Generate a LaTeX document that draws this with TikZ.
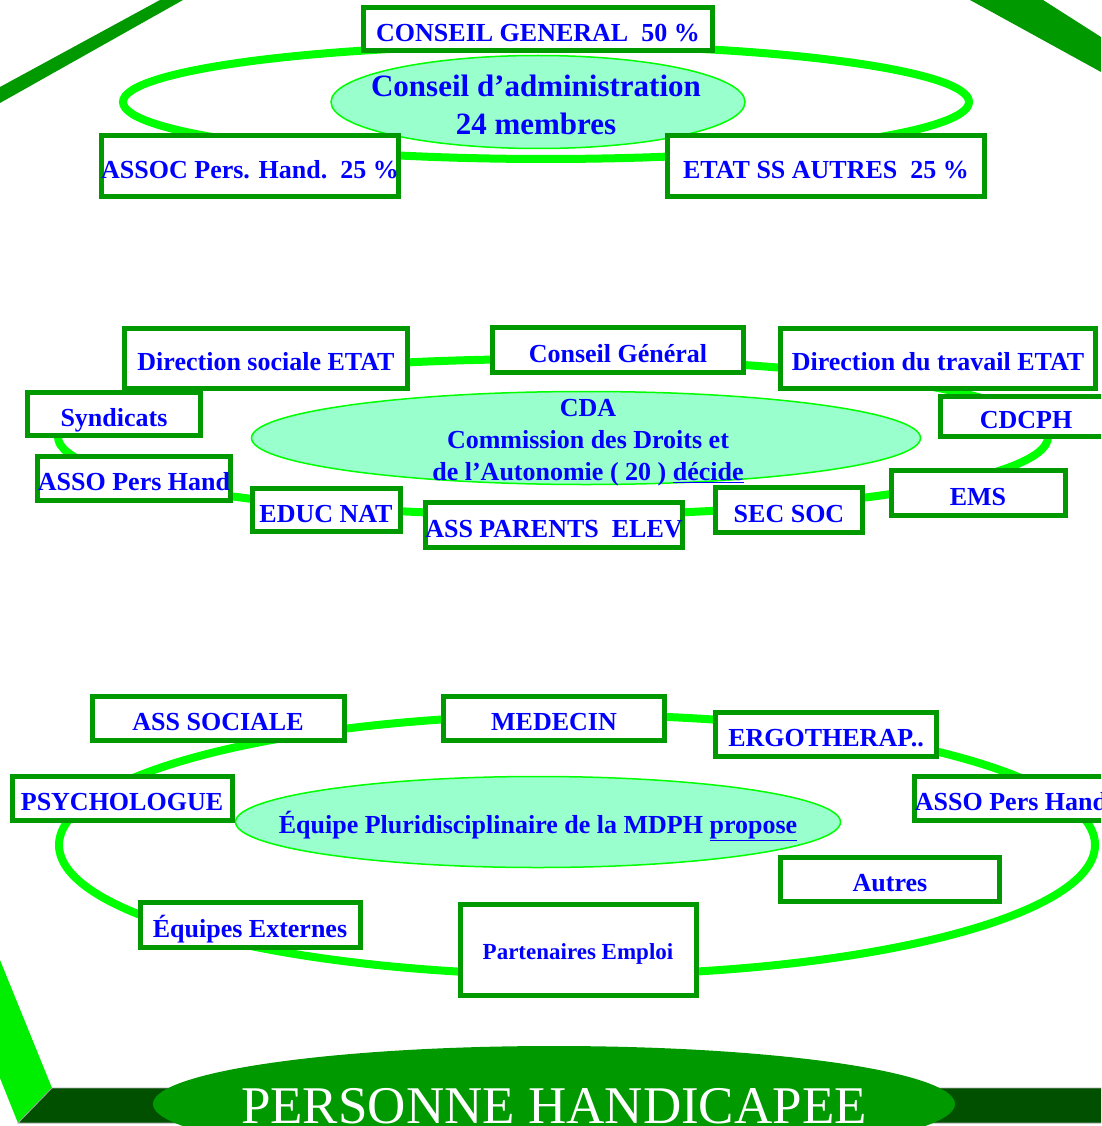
\documentclass[tikz,border=0pt]{standalone}
\usepackage{fontspec}
\setmainfont{Liberation Serif}
\usetikzlibrary{shapes.geometric}
\definecolor{boxgreen}{RGB}{0,153,0}
\definecolor{ringgreen}{RGB}{0,255,0}
\definecolor{facegreen}{RGB}{0,238,0}
\definecolor{basegreen}{RGB}{0,80,0}
\definecolor{cellfill}{RGB}{153,255,204}
\definecolor{txtblue}{RGB}{0,0,255}

\begin{document}
\begin{tikzpicture}[
      x=1pt,y=-1pt,
      ring/.style={draw=ringgreen,line width=8pt},
      cell/.style={ellipse,draw=ringgreen,line width=1.5pt,fill=cellfill,inner sep=0},
      celltext/.style={inner sep=0,text=txtblue,align=center,font=\bfseries\fontsize{26}{32}\selectfont},
      box/.style={rectangle,draw=boxgreen,line width=5pt,fill=white,inner sep=0,
        text height=25pt,text depth=0pt,text=txtblue,font=\bfseries\fontsize{26}{30}\selectfont},
    ]
    \clip (0,0) rectangle (1101,1126);
    %
    % frame of the pyramid
    \fill [boxgreen] (0,87) -- (160,0) -- (183,0) -- (0,103) -- cycle;
    \fill [boxgreen] (970,0) -- (1043,0) -- (1101,37) -- (1101,72) -- cycle;
    \fill [facegreen] (0,960) -- (52,1088) -- (18,1123) -- (0,1078) -- cycle;
    \filldraw [basegreen,draw=gray!70,line width=0.8pt] (52,1088) -- (1110,1088) -- (1110,1123) -- (18,1123) -- cycle;
    %
    % conseil d'administration
    \coordinate (r1) at (546,102);
    \draw [ring] (r1) ellipse [x radius=423, y radius=57];
    \node (ca) [cell,minimum width=414,minimum height=93] at (538,102) {};
    \node (catext) [celltext,font=\bfseries\fontsize{31}{38}\selectfont] at (536,105)
      {Conseil d’administration\\24 membres};
    \node (gen) [box,minimum width=349,minimum height=43] at (538,29) {CONSEIL GENERAL~~50~\%};
    \node (assoc) [box,minimum width=285,minimum height=60] at (250,166) {ASSOC Pers. Hand.~~25~\%};
    \node (etat) [box,minimum width=317,minimum height=60] at (826,166) {ETAT SS AUTRES~~25~\%};
    %
    % commission des droits
    \coordinate (r2) at (553,437);
    \draw [ring] (r2) ellipse [x radius=495, y radius=78];
    \node (cda) [cell,minimum width=669,minimum height=93] at (586,438) {};
    \node (cdatext) [celltext] at (588,443)
      {CDA\\Commission des Droits et\\de l’Autonomie ( 20 ) \underline{décide}};
    \node (dsoc) [box,minimum width=283,minimum height=60] at (266,358) {Direction sociale ETAT};
    \node (cg) [box,minimum width=251,minimum height=45] at (618,350) {Conseil Général};
    \node (dtrav) [box,minimum width=315,minimum height=60] at (938,358) {Direction du travail ETAT};
    \node (synd) [box,minimum width=173,minimum height=43] at (114,414) {Syndicats};
    \node (cdcph) [box,minimum width=171,minimum height=40] at (1026,416) {CDCPH};
    \node (asso2) [box,minimum width=180,minimum height=44] at (134,478) {ASSO Pers Hand};
    \node (educ) [box,minimum width=148,minimum height=43] at (326,510) {EDUC NAT};
    \node (parents) [box,minimum width=253,minimum height=45] at (554,525) {ASS PARENTS~~ELEV};
    \node (secsoc) [box,minimum width=147,minimum height=45] at (789,510) {SEC SOC};
    \node (ems) [box,minimum width=174,minimum height=45] at (978,493) {EMS};
    %
    % equipe pluridisciplinaire
    \coordinate (r3) at (577,845);
    \draw [ring] (r3) ellipse [x radius=518, y radius=130];
    \node (eq) [cell,minimum width=605,minimum height=91] at (538,822) {};
    \node (eqtext) [celltext] at (538,826) {Équipe Pluridisciplinaire de la MDPH \underline{propose}};
    \node (asssoc) [box,minimum width=252,minimum height=44] at (218,718) {ASS SOCIALE};
    \node (med) [box,minimum width=221,minimum height=44] at (554,718) {MEDECIN};
    \node (ergo) [box,minimum width=221,minimum height=44] at (826,734) {ERGOTHERAP..};
    \node (psy) [box,minimum width=220,minimum height=44] at (122,798) {PSYCHOLOGUE};
    \node (asso3) [box,minimum width=179,minimum height=44] at (1011,798) {ASSO Pers Hand};
    \node (autres) [box,minimum width=219,minimum height=44] at (890,879) {Autres};
    \node (eqext) [box,minimum width=220,minimum height=45] at (250,925) {Équipes Externes};
    \node (part) [box,minimum width=236,minimum height=91,text height=18pt,
      font=\bfseries\fontsize{23}{28}\selectfont] at (578,950) {Partenaires Emploi};
    %
    % personne
    \node (pers) [ellipse,fill=boxgreen,inner sep=0,minimum width=802,minimum height=116] at (554,1104) {};
    \node (perstext) [inner sep=0,text=white,font=\fontsize{53}{60}\selectfont] at (554,1106) {PERSONNE HANDICAPEE};
  \end{tikzpicture}
\end{document}
